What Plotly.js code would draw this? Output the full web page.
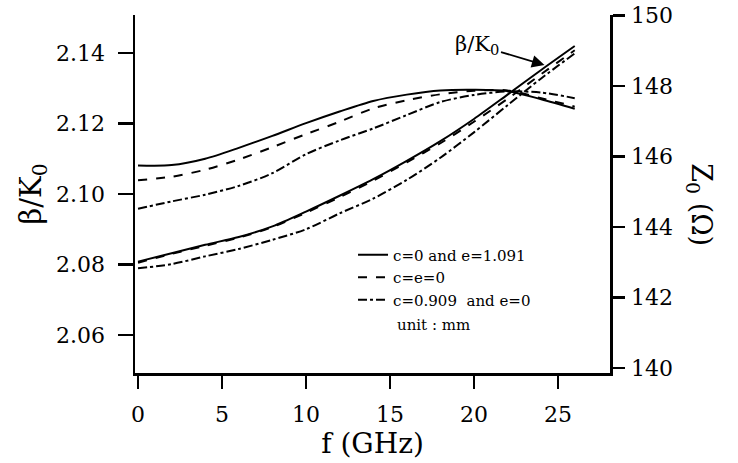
<!DOCTYPE html>
<html>
<head>
<meta charset="utf-8">
<script src="https://cdn.plot.ly/plotly-3.0.1.min.js"></script>
<style>html,body{margin:0;padding:0;background:#fff}#chart{width:738px;height:463px}</style>
</head>
<body>
<div id="chart"></div>
<script>
// Frequency (GHz)
const freq = [0, 2, 4, 6, 8, 10, 12, 14, 16, 18, 20, 22, 24, 26];
// beta/K0 (left axis)
const betaSolid   = [2.0808, 2.0832, 2.0856, 2.0878, 2.0908, 2.0950, 2.0995, 2.1042, 2.1094, 2.1150, 2.1213, 2.1282, 2.1352, 2.1420];
const betaDash    = [2.0805, 2.0830, 2.0853, 2.0876, 2.0906, 2.0947, 2.0991, 2.1038, 2.1090, 2.1144, 2.1205, 2.1270, 2.1340, 2.1408];
const betaDashDot = [2.0789, 2.0801, 2.0823, 2.0844, 2.0870, 2.0900, 2.0945, 2.0987, 2.1040, 2.1103, 2.1175, 2.1252, 2.1328, 2.1399];
// Z0 (ohm, right axis)
const z0Solid   = [145.75, 145.76, 145.94, 146.25, 146.59, 146.95, 147.28, 147.58, 147.76, 147.88, 147.90, 147.86, 147.63, 147.36];
const z0Dash    = [145.33, 145.43, 145.63, 145.92, 146.27, 146.64, 146.99, 147.37, 147.60, 147.77, 147.87, 147.88, 147.66, 147.42];
const z0DashDot = [144.52, 144.73, 144.92, 145.17, 145.53, 146.07, 146.46, 146.80, 147.18, 147.55, 147.75, 147.85, 147.82, 147.66];

const seriesNames = ['c=0 and e=1.091', 'c=e=0', 'c=0.909  and e=0'];
const xTicks = [0, 5, 10, 15, 20, 25];
const yTicks = [2.06, 2.08, 2.10, 2.12, 2.14];
const y2Ticks = [140, 142, 144, 146, 148, 150];

const FONT = 'DejaVu Serif, Liberation Serif, serif';
const dashes = ['solid', 'dash', 'dashdot'];
const betaSets = [betaSolid, betaDash, betaDashDot];
const zSets = [z0Solid, z0Dash, z0DashDot];

const traces = [];
for (let i = 0; i < 3; i++) {
  traces.push({
    x: freq, y: betaSets[i], name: seriesNames[i], type: 'scatter', mode: 'lines',
    line: {color: '#000', width: 2, dash: dashes[i], shape: 'spline', smoothing: 0.8},
    yaxis: 'y', showlegend: true
  });
}
for (let i = 0; i < 3; i++) {
  traces.push({
    x: freq, y: zSets[i], name: seriesNames[i], type: 'scatter', mode: 'lines',
    line: {color: '#000', width: 2, dash: dashes[i], shape: 'spline', smoothing: 0.8},
    yaxis: 'y2', showlegend: false
  });
}

const layout = {
  width: 738, height: 463,
  margin: {l: 135, r: 128, t: 15, b: 90, pad: 0},
  paper_bgcolor: '#fff', plot_bgcolor: '#fff',
  font: {family: FONT, color: '#000', size: 22},
  showlegend: true,
  legend: {
    x: 0.459, y: 0.376, xanchor: 'left', yanchor: 'top',
    bgcolor: 'rgba(0,0,0,0)', borderwidth: 0,
    font: {family: FONT, size: 15, color: '#000'},
    tracegroupgap: 0
  },
  xaxis: {
    range: [-0.18, 28.1], tickvals: xTicks, ticks: 'outside', ticklen: 13, tickwidth: 2.5,
    tickcolor: '#000', showline: true, linewidth: 2.5, linecolor: '#000',
    showgrid: false, zeroline: false, ticklabelstandoff: 7,
    tickfont: {family: FONT, size: 22},
    title: {text: 'f (GHz)', font: {family: FONT, size: 28}, standoff: 4}
  },
  yaxis: {
    range: [2.0492, 2.1508], tickvals: yTicks, tickformat: '.2f', ticks: 'outside', ticklen: 15, tickwidth: 2.5,
    tickcolor: '#000', showline: true, linewidth: 2.5, linecolor: '#000',
    showgrid: false, zeroline: false, ticklabelstandoff: 8,
    tickfont: {family: FONT, size: 22},
    title: {text: 'β/K<sub>0</sub>', font: {family: FONT, size: 29}, standoff: 6}
  },
  yaxis2: {
    range: [139.86, 150.02], tickvals: y2Ticks, overlaying: 'y', side: 'right', ticks: 'outside', ticklen: 12, tickwidth: 2.5,
    tickcolor: '#000', showline: true, linewidth: 2.5, linecolor: '#000',
    showgrid: false, zeroline: false, ticklabelstandoff: 2,
    tickfont: {family: FONT, size: 22}
  },
  annotations: [
    {
      x: 24.2, y: 2.1366, xref: 'x', yref: 'y',
      text: 'β/K<sub>0</sub>', showarrow: true, arrowhead: 2, arrowsize: 1.4, arrowwidth: 1.8,
      arrowcolor: '#000', ax: -67, ay: -20, standoff: 0,
      font: {family: FONT, size: 21, color: '#000'}
    },
    {
      x: 0.547, y: 0.133, xref: 'paper', yref: 'paper', xanchor: 'left', yanchor: 'middle',
      text: 'unit : mm', showarrow: false, font: {family: FONT, size: 15, color: '#000'}
    },
    {
      x: 1.189, y: 0.469, xref: 'paper', yref: 'paper', xanchor: 'center', yanchor: 'middle',
      text: 'Z<sub>0</sub> (Ω)', textangle: 90, showarrow: false, font: {family: FONT, size: 27, color: '#000'}
    }
  ]
};

Plotly.newPlot('chart', traces, layout, {staticPlot: true, displayModeBar: false});
</script>
</body>
</html>
